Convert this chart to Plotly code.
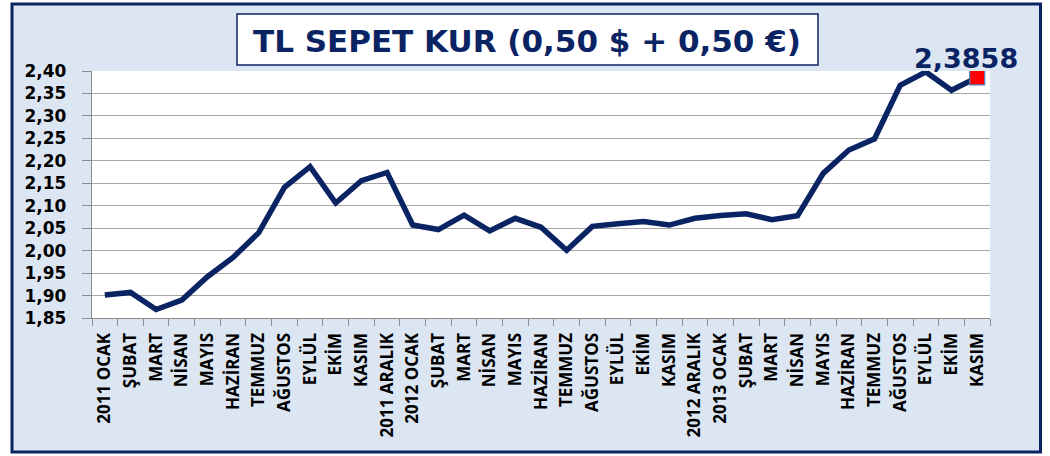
import plotly.graph_objects as go

categories = ["2011 OCAK", "ŞUBAT", "MART", "NİSAN", "MAYIS", "HAZİRAN", "TEMMUZ",
              "AĞUSTOS", "EYLÜL", "EKİM", "KASIM", "2011 ARALIK", "2012 OCAK", "ŞUBAT",
              "MART", "NİSAN", "MAYIS", "HAZİRAN", "TEMMUZ", "AĞUSTOS", "EYLÜL", "EKİM",
              "KASIM", "2012 ARALIK", "2013 OCAK", "ŞUBAT", "MART", "NİSAN", "MAYIS",
              "HAZİRAN", "TEMMUZ", "AĞUSTOS", "EYLÜL", "EKİM", "KASIM"]
values = [1.901, 1.907, 1.869, 1.890, 1.942, 1.985, 2.040, 2.141, 2.187, 2.106,
          2.156, 2.174, 2.057, 2.047, 2.079, 2.044, 2.072, 2.052, 2.001, 2.054,
          2.060, 2.065, 2.057, 2.072, 2.078, 2.082, 2.069, 2.078, 2.172, 2.224,
          2.249, 2.368, 2.398, 2.357, 2.3858]
y_ticks = [1.85, 1.90, 1.95, 2.00, 2.05, 2.10, 2.15, 2.20, 2.25, 2.30, 2.35, 2.40]
title_text = "TL SEPET KUR (0,50 $ + 0,50 €)"
last_label = "2,3858"

NAVY = "#0A2363"
GRID = "#A6A6A6"
AXIS = "#8C8C8C"

xs = list(range(len(categories)))

fig = go.Figure()
fig.add_trace(go.Scatter(x=xs, y=values, mode="lines",
                         line=dict(color=NAVY, width=5.5), hoverinfo="skip",
                         showlegend=False))
fig.add_trace(go.Scatter(x=[xs[-1]], y=[values[-1]], mode="markers",
                         marker=dict(symbol="square", size=15, color="#FF0000",
                                     line=dict(color="#4F81BD", width=1.2)),
                         showlegend=False))

L, R, T, B = 92, 60, 71, 138
W, H = 1050, 456
pw, ph = W - L - R, H - T - B

def px(x):
    return (x - L) / pw

def py(y):
    return (H - B - y) / ph

fig.add_shape(type="rect", xref="paper", yref="paper",
              x0=px(12), x1=px(1040.5), y0=py(452), y1=py(4),
              fillcolor="#DCE6F2", line=dict(color=NAVY, width=3), layer="below")
fig.add_shape(type="rect", xref="paper", yref="paper",
              x0=0, x1=1, y0=0, y1=1,
              fillcolor="white", line=dict(width=0), layer="below")
fig.add_shape(type="rect", xref="paper", yref="paper",
              x0=px(237), x1=px(818), y0=py(65), y1=py(14),
              fillcolor="white", line=dict(color=NAVY, width=1.5), layer="below")

fig.add_annotation(text=title_text, xref="paper", yref="paper",
                   x=px(527), y=py(41), xanchor="center", yanchor="middle",
                   showarrow=False,
                   font=dict(family="DejaVu Sans", size=31, color=NAVY, weight="bold"))
fig.add_annotation(text=last_label, x=xs[-1], y=values[-1], xref="x", yref="y",
                   xanchor="center", yanchor="bottom", xshift=-11, yshift=1,
                   showarrow=False,
                   font=dict(family="DejaVu Sans", size=27, color=NAVY, weight="bold"))

fig.update_layout(
    width=W, height=H,
    margin=dict(l=L, r=R, t=T, b=B, pad=0),
    paper_bgcolor="white", plot_bgcolor="white",
    separators=",.",
    showlegend=False,
)
fig.update_xaxes(
    range=[-0.5, len(categories) - 0.5],
    tickmode="array", tickvals=xs, ticktext=categories,
    tickangle=-90, ticks="outside", ticklen=0, ticklabelstandoff=7,
    tickfont=dict(family="Open Sans", size=17, color="black", weight="bold"),
    showline=True, linecolor=AXIS, linewidth=1.3, showgrid=False, zeroline=False,
    minor=dict(tickmode="array", tickvals=[i - 0.5 for i in range(len(categories) + 1)],
               ticks="outside", ticklen=7, tickcolor=AXIS, tickwidth=1.3, showgrid=False),
)
fig.update_yaxes(
    range=[1.85, 2.40], tickmode="array", tickvals=y_ticks, tickformat=".2f",
    ticks="outside", ticklen=9, tickcolor=AXIS, tickwidth=1.3, ticklabelstandoff=12,
    tickfont=dict(family="DejaVu Sans", size=17, color="black", weight="bold"),
    showline=True, linecolor=AXIS, linewidth=1.3,
    showgrid=True, gridcolor=GRID, gridwidth=1.3, zeroline=False,
)

fig.write_html("out.html", config={"displayModeBar": False},
               post_script="document.body.style.margin='0';document.body.style.padding='0';")
